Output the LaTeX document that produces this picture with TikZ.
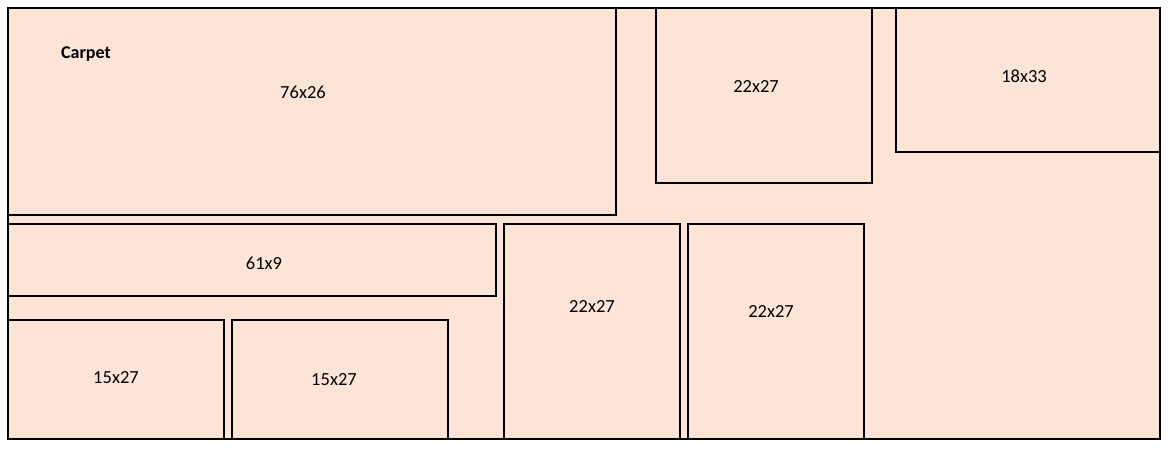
\documentclass[tikz,border=0pt]{standalone}
\usepackage{fontspec}
\setmainfont{Carlito}
\usepackage{tikz}
\usetikzlibrary{calc}
\definecolor{peach}{HTML}{FCE4D6}
\tikzset{piece/.style={draw=black, line width=2.3pt, fill=peach}}
\tikzset{size/.style={font=\fontsize{18.5}{21}\selectfont}}

\begin{document}
\begin{tikzpicture}[x=1pt, y=-1pt]
        \useasboundingbox[fill=white] (0, 0) rectangle (1169, 451);

        % Carpet
        \draw[piece] (8, 8) rectangle (1160, 439);

        %76x26
        \draw[piece] (8, 8) rectangle (616, 215);
        \draw (303, 92) node[size] (a) {76x26};
        \draw (86, 54) node[font=\fontsize{18}{21}\selectfont\bfseries] (carpet) {Carpet};

        %22x27 top
        \draw[piece] (656, 8) rectangle (872, 183);
        \draw (756, 86) node[size] (b) {22x27};

        %18x33
        \draw[piece] (896, 8) rectangle (1160, 152);
        \draw (1024, 76) node[size] (c) {18x33};

        %61x9
        \draw[piece] (8, 224) rectangle (496, 296);
        \draw (264, 263) node[size] (d) {61x9};

        %15x27
        \draw[piece] (8, 320) rectangle (224, 439);
        \draw (116, 378) node[size] (e) {15x27};
        \draw[piece] (232, 320) rectangle (448, 439);
        \draw (334, 380) node[size] (f) {15x27};

        %22x27 bottom
        \draw[piece] (504, 224) rectangle (680, 439);
        \draw (592, 306) node[size] (g) {22x27};
        \draw[piece] (688, 224) rectangle (864, 439);
        \draw (771, 311) node[size] (h) {22x27};
    \end{tikzpicture}
\end{document}
